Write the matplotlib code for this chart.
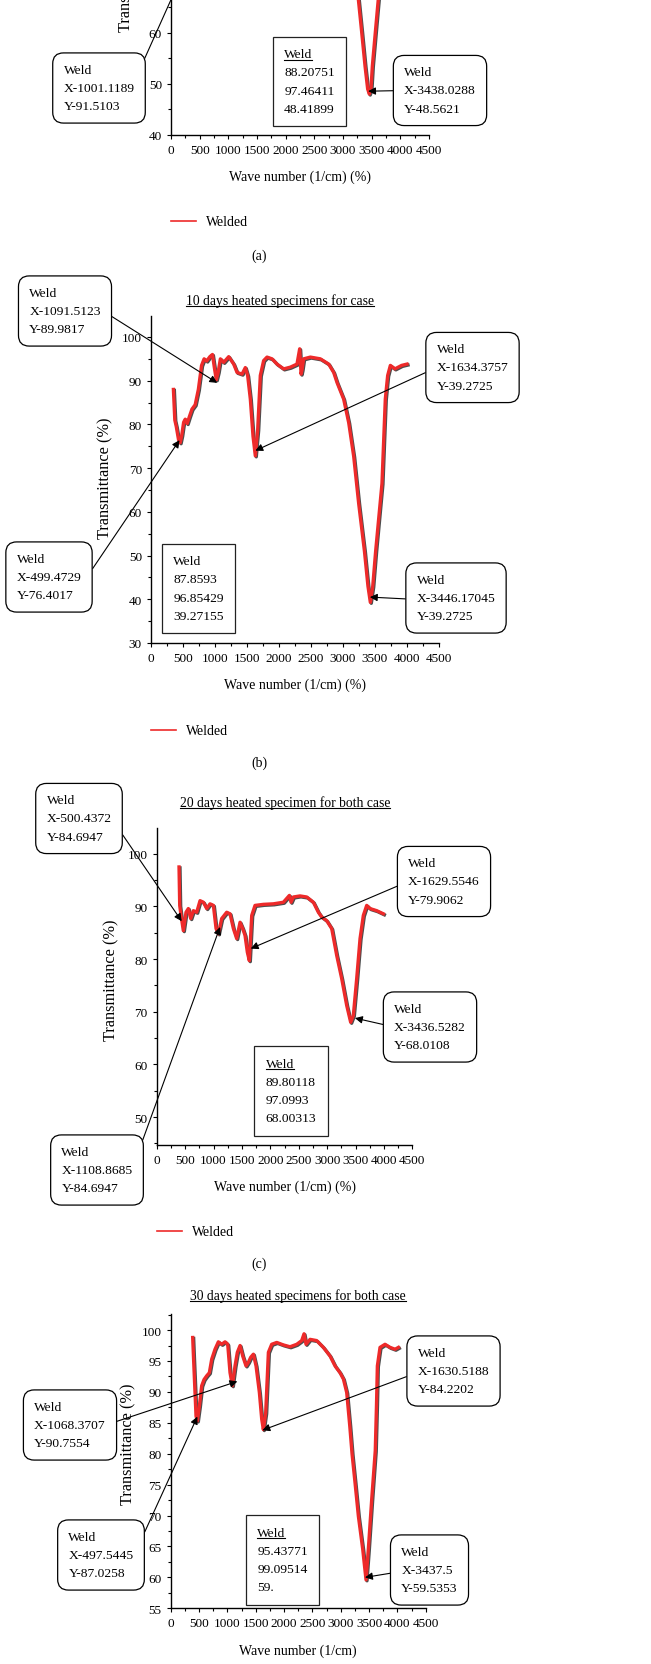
import matplotlib
matplotlib.use('Agg')
import matplotlib.pyplot as plt
import matplotlib.patheffects as pe
from matplotlib.ticker import MultipleLocator
from matplotlib.lines import Line2D
from matplotlib.transforms import IdentityTransform

plt.rcParams['font.family'] = ['Liberation Serif', 'DejaVu Serif']

W, H = 651, 1665
RED = '#ee2a2a'

# ---------------- data ----------------
# (a) only the bottom of the 3438 band is inside the picture
wn_a = [3150, 3267, 3326, 3384, 3430, 3459, 3488, 3512, 3564, 3616, 3720]
tr_a = [88.0, 66.6, 60.1, 53.5, 49.0, 48.0, 49.0, 53.5, 60.1, 66.6, 90.0]

wn_b = [350, 372, 395, 430, 455, 480, 510, 535, 565, 600, 640, 690, 740, 790, 830, 870, 920, 960, 990, 1020,
        1050, 1084, 1136, 1214, 1292, 1344, 1422, 1474, 1510, 1552, 1594, 1630, 1667, 1708, 1760, 1813, 1891,
        1969, 2073, 2177, 2281, 2323, 2345, 2360, 2385, 2490, 2646, 2776, 2854, 2906, 3010, 3089, 3167, 3245,
        3335, 3390, 3427, 3465, 3510, 3609, 3661, 3698, 3740, 3811, 3916, 4000]
tr_b = [88.0, 81.0, 79.5, 76.5, 75.8, 77.5, 80.5, 81.2, 80.2, 81.8, 83.5, 84.5, 88.0, 93.5, 95.0, 94.5, 95.5,
        96.0, 93.0, 90.2, 92.0, 95.0, 94.2, 95.5, 93.8, 91.9, 91.5, 93.0, 91.2, 85.8, 77.3, 72.8, 78.8, 91.2,
        94.6, 95.4, 95.0, 93.8, 92.7, 93.1, 93.8, 97.3, 91.5, 92.5, 95.0, 95.4, 95.0, 93.8, 91.9, 89.6, 85.8,
        80.4, 72.7, 61.9, 51.0, 43.0, 39.3, 43.0, 51.0, 66.5, 85.8, 91.2, 93.5, 92.7, 93.5, 93.8]

wn_c = [393, 405, 428, 469, 516, 557, 599, 646, 704, 763, 822, 880, 939, 998, 1045, 1086, 1144, 1232, 1291,
        1350, 1408, 1467, 1514, 1555, 1596, 1631, 1673, 1731, 1878, 2054, 2230, 2336, 2365, 2406, 2523, 2641,
        2758, 2846, 2905, 2993, 3081, 3169, 3257, 3345, 3415, 3462, 3521, 3580, 3638, 3697, 3756, 3873, 3991]
tr_c = [97.5, 90.2, 88.3, 85.4, 88.9, 89.6, 87.7, 89.2, 88.9, 91.1, 90.8, 89.6, 90.5, 90.2, 85.8, 84.8, 87.7,
        88.9, 88.6, 85.8, 83.9, 87.0, 85.8, 84.5, 81.3, 79.7, 88.3, 90.2, 90.4, 90.5, 90.8, 92.1, 90.8, 91.8,
        92.0, 91.8, 90.8, 88.9, 88.0, 87.3, 85.8, 80.7, 76.3, 71.2, 68.0, 69.3, 76.3, 83.9, 88.3, 90.2, 89.6,
        89.2, 88.6]

wn_d = [388, 400, 429, 447, 470, 506, 547, 588, 635, 682, 724, 782, 841, 900, 959, 1006, 1047, 1088, 1135,
        1176, 1224, 1271, 1329, 1371, 1412, 1459, 1506, 1565, 1606, 1635, 1676, 1724, 1782, 1871, 1988, 2106,
        2224, 2312, 2353, 2388, 2459, 2576, 2694, 2812, 2900, 2988, 3047, 3106, 3160, 3200, 3253, 3312, 3388,
        3447, 3488, 3547, 3610, 3632, 3647, 3694, 3782, 3871, 3959, 4018]
tr_d = [98.8, 96.1, 89.9, 86.1, 85.3, 87.7, 91.0, 92.0, 92.6, 93.1, 95.3, 96.9, 98.1, 97.7, 98.1, 97.7, 93.1,
        91.0, 94.2, 96.4, 97.5, 95.8, 94.2, 94.8, 95.6, 96.1, 94.2, 89.9, 85.6, 83.9, 86.6, 96.4, 97.7, 98.0,
        97.6, 97.3, 97.7, 98.3, 99.4, 97.7, 98.5, 98.3, 97.2, 95.8, 94.2, 93.1, 92.1, 89.9, 84.5, 80.0, 75.3,
        69.9, 64.6, 59.6, 64.6, 72.6, 80.5, 88.0, 94.2, 97.2, 97.7, 97.2, 96.9, 97.2]

titles = [None,
          '10 days heated specimens for case',
          '20 days heated specimen for both case',
          '30 days heated specimens for both case']
xlabels = ['Wave number (1/cm) (%)', 'Wave number (1/cm) (%)', 'Wave number (1/cm) (%)', 'Wave number (1/cm)']
ylabel = 'Transmittance (%)'
panel_tags = ['(a)', '(b)', '(c)']
legend_label = 'Welded'

stats_a = ['88.20751', '97.46411', '48.41899']
stats_b = ['87.8593', '96.85429', '39.27155']
stats_c = ['89.80118', '97.0993', '68.00313']
stats_d = ['95.43771', '99.09514', '59.']

callouts_a = [('Weld\nX-1001.1189\nY-91.5103', (1001.1189, 91.5103)),
              ('Weld\nX-3438.0288\nY-48.5621', (3438.0288, 48.5621))]
callouts_b = [('Weld\nX-1091.5123\nY-89.9817', (1035, 89.5)),
              ('Weld\nX-1634.3757\nY-39.2725', (1630, 74.0)),
              ('Weld\nX-499.4729\nY-76.4017', (445, 76.4)),
              ('Weld\nX-3446.17045\nY-39.2725', (3420, 40.5))]
callouts_c = [('Weld\nX-500.4372\nY-84.6947', (440, 87.2)),
              ('Weld\nX-1629.5546\nY-79.9062', (1655, 82.0)),
              ('Weld\nX-3436.5282\nY-68.0108', (3490, 68.8)),
              ('Weld\nX-1108.8685\nY-84.6947', (1115, 86.1))]
callouts_d = [('Weld\nX-1068.3707\nY-90.7554', (1176, 91.7)),
              ('Weld\nX-1630.5188\nY-84.2202', (1618, 83.8)),
              ('Weld\nX-497.5445\nY-87.0258', (470, 86.0)),
              ('Weld\nX-3437.5\nY-59.5353', (3429, 60.0))]

# ---------------- layout (pixels from top-left) ----------------
panels = [
    dict(wn=wn_a, tr=tr_a, ax=(171, 429, -195.5, 136), ylim=(40, 104.8), ymaj=10, ymin=5,
         ylab=(134, 0.498), title_xy=None, xlabel=xlabels[0], tag_xy=(259, 256), legend_xy=(171, 223),
         stats=stats_a, stats_c=(309.5, 82.5), underline=True,
         callouts=callouts_a,
         boxes=[((99, 89), (1, 0.64)), ((440, 91.5), (0, 0.5))]),
    dict(wn=wn_b, tr=tr_b, ax=(151, 439, 317, 644), ylim=(30, 104.8), ymaj=10, ymin=5,
         ylab=(113, 0.508), title_xy=(280, 301), xlabel=xlabels[1], tag_xy=(259, 763), legend_xy=(151, 732),
         stats=stats_b, stats_c=(198.5, 589.5), underline=False,
         callouts=callouts_b,
         boxes=[((65, 312), (1, 0.53)), ((472.5, 368.5), (0, 0.5)),
                ((49, 578), (1, 0.33)), ((456, 599), (0, 0.47))]),
    dict(wn=wn_c, tr=tr_c, ax=(156.7, 412.3, 829, 1146), ylim=(44.7, 104.9), ymaj=10, ymin=5,
         ylab=(119, 0.524), title_xy=(284.7, 802.7), xlabel=xlabels[2], tag_xy=(259, 1264), legend_xy=(157, 1233),
         stats=stats_c, stats_c=(291, 1092), underline=True,
         callouts=callouts_c,
         boxes=[((79, 819.5), (1, 0.5)), ((444, 882.5), (0, 0.5)),
                ((430, 1028), (0, 0.5)), ((97, 1171), (1, 0.54))]),
    dict(wn=wn_d, tr=tr_d, ax=(170.7, 425.7, 1315, 1609.3), ylim=(55, 102.6), ymaj=5, ymin=2.5,
         ylab=(136, 0.562), title_xy=(297.8, 1296), xlabel=xlabels[3], tag_xy=None, legend_xy=None,
         stats=stats_d, stats_c=(282.5, 1561), underline=True,
         callouts=callouts_d,
         boxes=[((70, 1426), (1, 0.5)), ((453.5, 1372), (0, 0.47)),
                ((101, 1556), (1, 0.47)), ((429.5, 1571), (0, 0.47))]),
]

BOX_FS = 9.7
fig = plt.figure(figsize=(W / 100, H / 100), dpi=100)

to_underline = []
stats_texts = []

for i, p in enumerate(panels):
    x0, x1, ytop, ybot = p['ax']
    ax = fig.add_axes([x0 / W, 1 - ybot / H, (x1 - x0) / W, (ybot - ytop) / H])
    ax.plot(p['wn'], p['tr'], color=RED, lw=2.4, solid_joinstyle='round',
            path_effects=[pe.SimpleLineShadow(offset=(0.7, -0.7), shadow_color='#3a3a3a', alpha=0.9),
                          pe.Normal()])
    ax.set_xlim(0, 4500)
    ax.set_ylim(*p['ylim'])
    ax.xaxis.set_major_locator(MultipleLocator(500))
    ax.xaxis.set_minor_locator(MultipleLocator(250))
    ax.yaxis.set_major_locator(MultipleLocator(p['ymaj']))
    ax.yaxis.set_minor_locator(MultipleLocator(p['ymin']))
    for s in ['top', 'right']:
        ax.spines[s].set_visible(False)
    for s in ['left', 'bottom']:
        ax.spines[s].set_linewidth(1.0)
    ax.tick_params(which='major', direction='out', length=3, width=0.8, labelsize=9.5, pad=3.5)
    ax.tick_params(which='minor', direction='out', length=2.2, width=0.8)
    ax.set_xlabel(p['xlabel'], fontsize=10, labelpad=10)
    ax.set_ylabel(ylabel, fontsize=11.8)
    ax.yaxis.set_label_coords((p['ylab'][0] - x0) / (x1 - x0), p['ylab'][1])

    for (txt, xy), (c, rel) in zip(p['callouts'], p['boxes']):
        ax.annotate(txt, xy=xy, xycoords='data', xytext=(c[0], H - c[1]), textcoords='figure pixels',
                    ha='center', va='center', multialignment='left', fontsize=BOX_FS, linespacing=1.7,
                    bbox=dict(boxstyle='round,pad=0.8,rounding_size=0.8', fc='white', ec='black', lw=0.9),
                    arrowprops=dict(arrowstyle='-|>', color='black', lw=0.8, mutation_scale=11,
                                    shrinkA=0, shrinkB=0, relpos=rel),
                    annotation_clip=False, zorder=5)

    sx, sy = p['stats_c']
    st = fig.text(sx / W, 1 - sy / H, '\n'.join(['Weld'] + p['stats']), ha='center', va='center',
                  multialignment='left', fontsize=BOX_FS, linespacing=1.7, zorder=5,
                  bbox=dict(boxstyle='square,pad=0.85', fc='white', ec='#222222', lw=0.9))
    if p['underline']:
        stats_texts.append(st)

    if p['title_xy'] is not None:
        tx, ty = p['title_xy']
        t = fig.text(tx / W, 1 - ty / H, titles[i], ha='center', va='center', fontsize=9.8)
        to_underline.append(t)

    if p['legend_xy'] is not None:
        lx, ly = p['legend_xy']
        handle = Line2D([], [], color=RED, lw=1.2)
        fig.legend([handle], [legend_label], loc='center left', bbox_to_anchor=(lx / W, 1 - ly / H),
                   bbox_transform=fig.transFigure, frameon=False, fontsize=10, borderpad=0,
                   borderaxespad=0, handlelength=1.8, handletextpad=0.7)

    if p['tag_xy'] is not None:
        gx, gy = p['tag_xy']
        fig.text(gx / W, 1 - gy / H, panel_tags[i], ha='center', va='center', fontsize=10)

# underlines (titles and "Weld" heading in the stats boxes)
fig.canvas.draw()
r = fig.canvas.get_renderer()
for t in to_underline:
    bb = t.get_window_extent(r)
    fig.add_artist(Line2D([bb.x0, bb.x1], [bb.y0 + 0.5] * 2, transform=IdentityTransform(),
                          color='black', lw=0.8))
probe = fig.text(0, 0, 'Weld', fontsize=BOX_FS)
pb = probe.get_window_extent(r)
probe.remove()
for st in stats_texts:
    bb = st.get_window_extent(r)
    yb = bb.y1 - pb.height + 0.5
    fig.add_artist(Line2D([bb.x0, bb.x0 + pb.width], [yb, yb], transform=IdentityTransform(),
                          color='black', lw=0.8, zorder=6))

fig.savefig('out.png', dpi=100)
